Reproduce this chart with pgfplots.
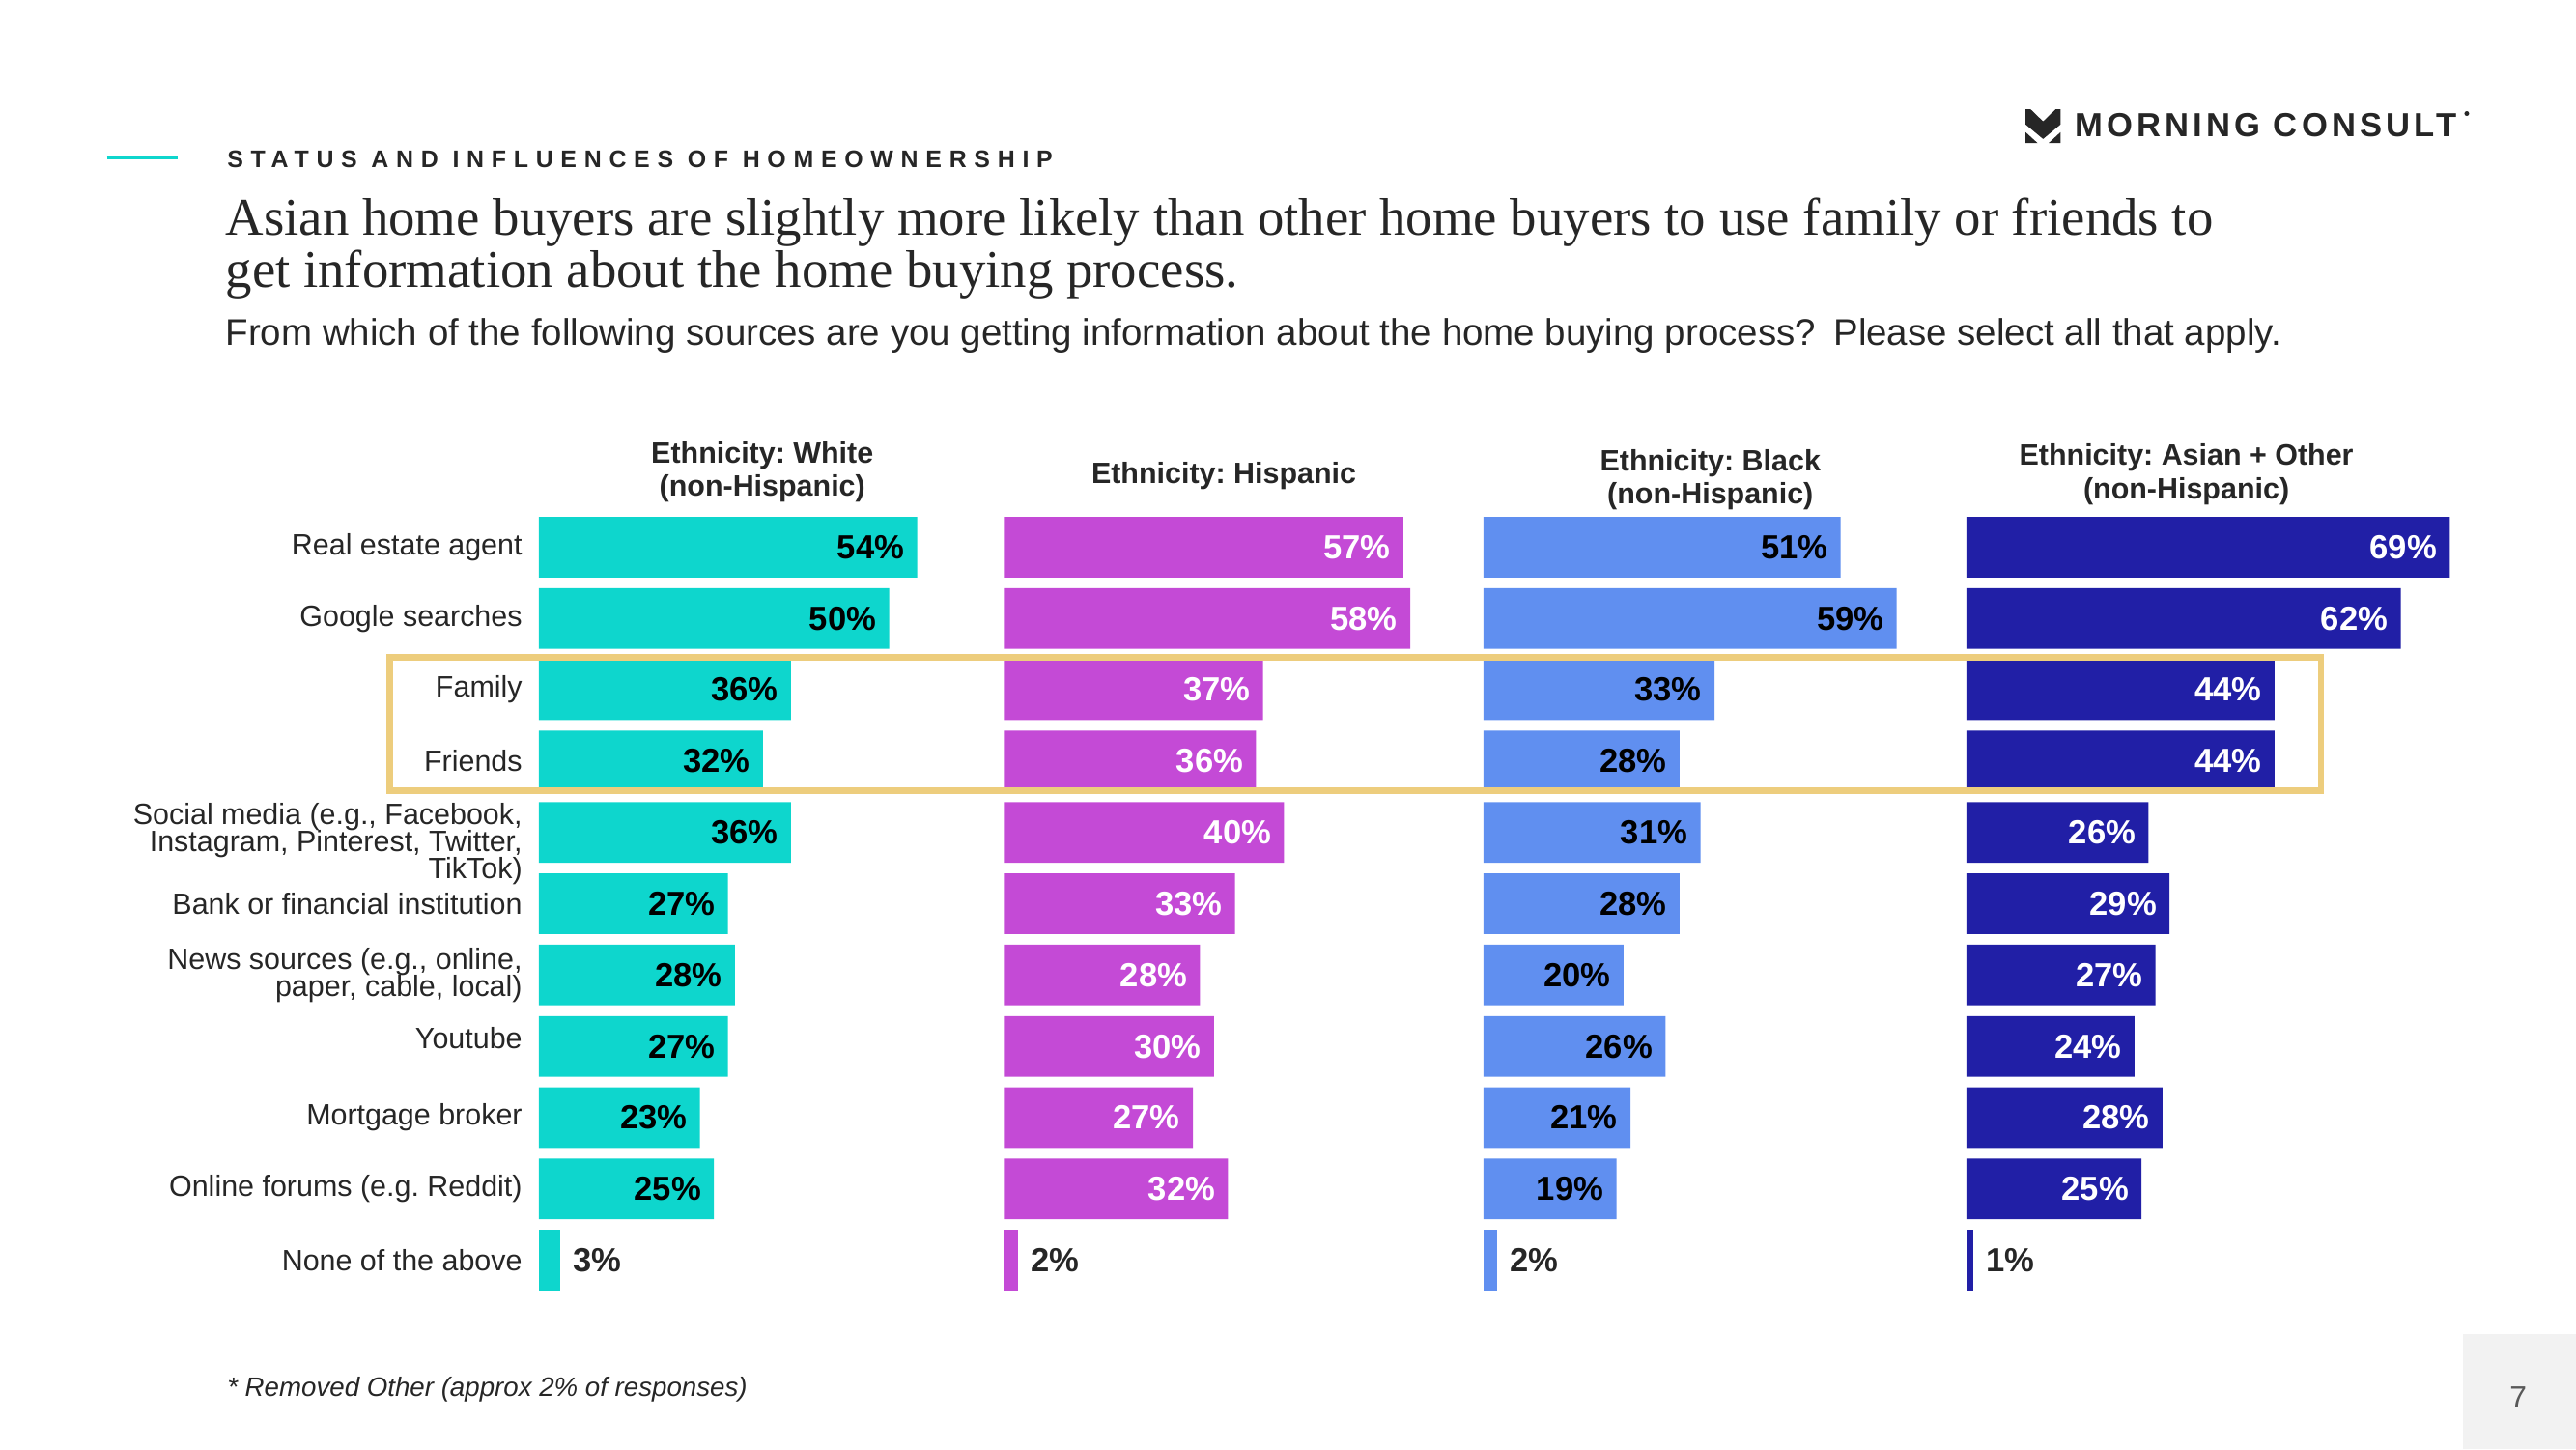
\documentclass[border=0pt]{standalone}
\usepackage{pgfplots}
\pgfplotsset{compat=1.18}
\usepackage{pgfplotstable}
\usepackage{fontspec}
\setmainfont{Liberation Sans}
\newfontfamily\serif{Liberation Serif}
\newfontfamily\spaced[LetterSpace=31]{Liberation Sans}
\newfontfamily\logofont[LetterSpace=12]{Liberation Sans}

\definecolor{txt}{RGB}{38,38,38}
\definecolor{cWhite}{RGB}{14,214,205}
\definecolor{cHisp}{RGB}{196,74,214}
\definecolor{cBlack}{RGB}{96,143,240}
\definecolor{cAsian}{RGB}{33,31,166}
\definecolor{hl}{RGB}{237,205,125}
\definecolor{pgbox}{RGB}{242,242,242}

\newcommand\lab{\fontsize{11}{9.8}\selectfont}
\newcommand\val{\bfseries\fontsize{12.5}{14}\selectfont}
\newcommand\head{\bfseries\fontsize{11}{12.3}\selectfont}

% rows: 0 = Real estate agent ... 9 = Online forums, 10 = None of the above
\pgfplotstableread{
r v
0 54
1 50
2 36
3 32
4 36
5 27
6 28
7 27
8 23
9 25
}\whiteT
\pgfplotstableread{
r v
10 3
}\whiteN
\pgfplotstableread{
r v
0 57
1 58
2 37
3 36
4 40
5 33
6 28
7 30
8 27
9 32
}\hispT
\pgfplotstableread{
r v
10 2
}\hispN
\pgfplotstableread{
r v
0 51
1 59
2 33
3 28
4 31
5 28
6 20
7 26
8 21
9 19
}\blackT
\pgfplotstableread{
r v
10 2
}\blackN
\pgfplotstableread{
r v
0 69
1 62
2 44
3 44
4 26
5 29
6 27
7 24
8 28
9 25
}\asianT
\pgfplotstableread{
r v
10 1
}\asianN

\pgfplotsset{
  panel/.style={
    anchor=north west,
    x=2.611bp, y=26.57bp, y dir=reverse,
    xmin=0, xmax=70, ymin=-0.5, ymax=10.5,
    axis line style={draw=none}, major tick length=0pt,
    xtick=\empty, ytick=\empty,
    clip=false,
    /pgf/number format/assume math mode=true,
    yticklabel style={font=\lab, align=right, text=txt, inner sep=0pt, xshift=-6bp},
  },
  inbar/.style={xbar, bar width=22.6bp, draw=none, point meta=x,
    nodes near coords={\pgfmathprintnumber{\pgfplotspointmeta}\%},
    nodes near coords style={anchor=east, xshift=-1.3bp, font=\val, text=#1}},
  outbar/.style={xbar, bar width=22.6bp, draw=none, point meta=x,
    nodes near coords={\pgfmathprintnumber{\pgfplotspointmeta}\%},
    nodes near coords style={anchor=west, xshift=1.3bp, font=\val, text=txt}},
}

\begin{document}
\frenchspacing
\begin{tikzpicture}
\path[use as bounding box] (0,0) rectangle (960bp,-540bp);

% header
\draw[cWhite, line width=1.2bp] (39.8bp,-58.8bp) -- (66.1bp,-58.8bp);
\node[anchor=base west, inner sep=0pt, text=txt, font=\spaced\bfseries\fontsize{9}{10}\selectfont]
  at (84.5bp,-62.4bp) {STATUS AND INFLUENCES OF HOMEOWNERSHIP};
\node[anchor=base west, inner sep=0pt, text=txt, font=\serif\fontsize{19.8}{20}\selectfont]
  at (83.9bp,-87.5bp) {Asian home buyers are slightly more likely than other home buyers to use family or friends to};
\node[anchor=base west, inner sep=0pt, text=txt, font=\serif\fontsize{19.8}{20}\selectfont]
  at (83.9bp,-107.1bp) {get information about the home buying process.};
\node[anchor=base west, inner sep=0pt, text=txt, font=\fontsize{13.9}{16}\selectfont]
  at (83.9bp,-128.6bp) {From which of the following sources are you getting information about the home buying process?\hspace{0.2em} Please select all that apply.};

% logo
\begin{scope}[shift={(754.9bp,-40.7bp)}, x=13bp, y=-12.6bp]
  \fill[txt] (0,0) -- (0.14,0) -- (0.5,0.36) -- (0.86,0) -- (1,0) -- (1,0.45) -- (0.5,0.88) -- (0,0.45) -- cycle;
  \fill[txt] (0,0.68) -- (0.34,1) -- (0,1) -- cycle;
  \fill[txt] (1,0.68) -- (0.66,1) -- (1,1) -- cycle;
\end{scope}
\node[anchor=base west, inner sep=0pt, text=txt, font=\logofont\bfseries\fontsize{12.5}{14}\selectfont]
  at (773bp,-50.8bp) {MORNING CONSULT};
\fill[txt] (919.3bp,-42.3bp) circle (0.9bp);

% panels
\begin{axis}[panel, at={(200.8bp,-190.6bp)}, ytick={0,...,10},
  yticklabels={Real estate agent, Google searches, Family, Friends,
    {\rule{0pt}{16.4bp}Social media (e.g., Facebook,\\[-1.2bp]Instagram, Pinterest, Twitter,\\[-1.2bp]TikTok)},
    Bank or financial institution,
    {News sources (e.g., online,\\[-1.2bp]paper, cable, local)},
    {Youtube\rule[-6.1bp]{0pt}{0pt}}, Mortgage broker, Online forums (e.g. Reddit), None of the above}]
\addplot[inbar=black, fill=cWhite] table[x=v, y=r] {\whiteT};
\addplot[outbar, fill=cWhite] table[x=v, y=r] {\whiteN};
\node[font=\head, align=center, text=txt] at (axis cs:31.9,-1.06) {Ethnicity: White\\(non-Hispanic)};
\end{axis}

\begin{axis}[panel, at={(374.1bp,-190.6bp)}]
\addplot[inbar=white, fill=cHisp] table[x=v, y=r] {\hispT};
\addplot[outbar, fill=cHisp] table[x=v, y=r] {\hispN};
\node[font=\head, align=center, text=txt] at (axis cs:31.4,-1.0) {Ethnicity: Hispanic};
\end{axis}

\begin{axis}[panel, at={(552.8bp,-190.6bp)}]
\addplot[inbar=black, fill=cBlack] table[x=v, y=r] {\blackT};
\addplot[outbar, fill=cBlack] table[x=v, y=r] {\blackN};
\node[font=\head, align=center, text=txt] at (axis cs:32.4,-0.94) {Ethnicity: Black\\(non-Hispanic)};
\end{axis}

\begin{axis}[panel, at={(732.8bp,-190.6bp)}]
\addplot[inbar=white, fill=cAsian] table[x=v, y=r] {\asianT};
\addplot[outbar, fill=cAsian] table[x=v, y=r] {\asianN};
\node[font=\head, align=center, text=txt] at (axis cs:31.4,-1.02) {Ethnicity: Asian + Other\\(non-Hispanic)};
\end{axis}

% highlight box
\draw[hl, line width=2.4bp] (145.2bp,-244.9bp) rectangle (865bp,-294.7bp);

% footer
\node[anchor=base west, inner sep=0pt, text=txt, font=\itshape\fontsize{10}{11}\selectfont]
  at (84.5bp,-520.4bp) {* Removed Other (approx 2\% of responses)};
\fill[pgbox] (917.7bp,-497bp) rectangle (960bp,-540bp);
\node[anchor=base, inner sep=0pt, text=black!65, font=\fontsize{11.5}{13}\selectfont]
  at (938.5bp,-524.7bp) {7};
\end{tikzpicture}
\end{document}
